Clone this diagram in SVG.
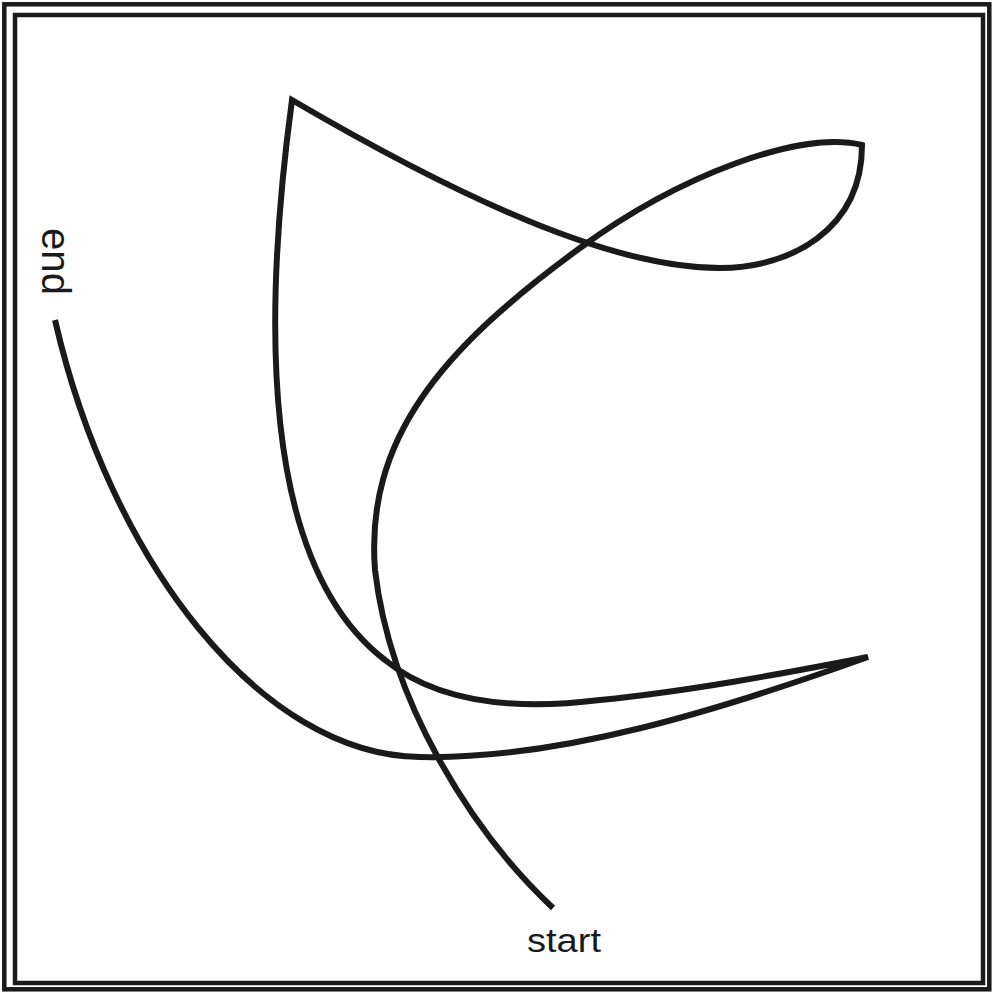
<svg xmlns="http://www.w3.org/2000/svg" width="994" height="994" viewBox="0 0 994 994">
<style>
.frame{fill:none;stroke:#1a1a1a;stroke-width:4.5}
.curve{fill:none;stroke:#1a1a1a;stroke-width:6;stroke-linejoin:miter;stroke-miterlimit:4}
.lbl{font-family:"Liberation Sans",Arial,sans-serif;fill:#1a1a1a}
</style>
<rect width="994" height="994" fill="#fff"/>
<g id="frame">
<rect class="frame" x="4.3" y="4.3" width="985" height="985"/>
<rect class="frame" x="15" y="15" width="968" height="968"/>
</g>
<g id="connectors">
<path class="curve" d="M553,908 C470,830 390,700 375,570 C365,440 440,350 580,248 C680,175 800,130 862,145 C862,230 790,268 720,268 C620,268 480,210 292,100 C265,300 255,560 385,660 C440,705 520,710 600,700 C700,690 800,670 868,657 C720,710 560,760 420,757 C260,755 110,560 55,320"/>
</g>
<g id="start">
<text class="lbl" x="527" y="952" font-size="33" textLength="74" lengthAdjust="spacingAndGlyphs">start</text>
</g>
<g id="end">
<text class="lbl" transform="translate(42,228) rotate(90)" font-size="40" textLength="67" lengthAdjust="spacingAndGlyphs">end</text>
</g>
</svg>
